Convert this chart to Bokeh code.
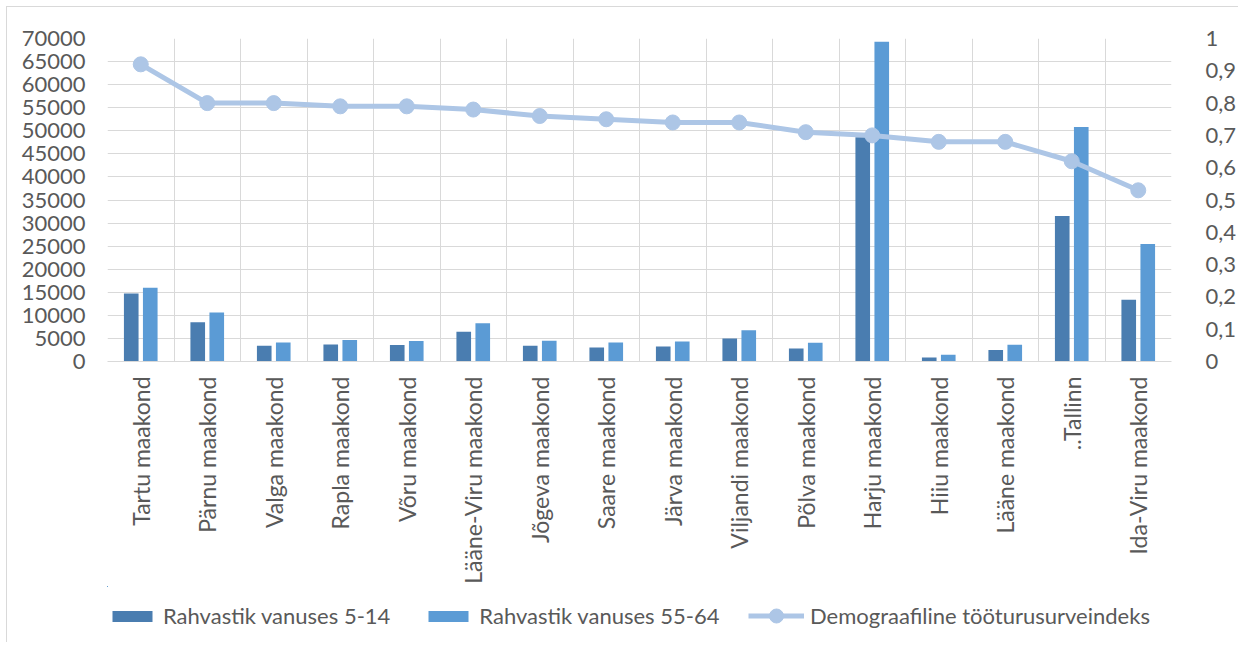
import math
from bokeh.plotting import figure
from bokeh.layouts import column
from bokeh.models import (ColumnDataSource, Range1d, LinearAxis, FixedTicker,
                          CustomJSTickFormatter, Legend, LegendItem)
from bokeh.transform import dodge
from bokeh.embed import file_html
from bokeh.resources import INLINE

# ---- data ----
counties = ["Tartu maakond", "Pärnu maakond", "Valga maakond", "Rapla maakond",
            "Võru maakond", "Lääne-Viru maakond", "Jõgeva maakond", "Saare maakond",
            "Järva maakond", "Viljandi maakond", "Põlva maakond", "Harju maakond",
            "Hiiu maakond", "Lääne maakond", "..Tallinn", "Ida-Viru maakond"]
pop_5_14 = [14760, 8500, 3420, 3700, 3560, 6470, 3420, 3050,
            3270, 5010, 2830, 48600, 870, 2470, 31550, 13370]
pop_55_64 = [15980, 10600, 4140, 4650, 4430, 8290, 4500, 4140,
             4360, 6760, 4070, 69300, 1450, 3630, 50800, 25440]
pressure_index = [0.92, 0.80, 0.80, 0.79, 0.79, 0.78, 0.76, 0.75,
                  0.74, 0.74, 0.71, 0.70, 0.68, 0.68, 0.62, 0.53]
left_ticks = [0, 5000, 10000, 15000, 20000, 25000, 30000, 35000,
              40000, 45000, 50000, 55000, 60000, 65000, 70000]
right_ticks = [0, 0.1, 0.2, 0.3, 0.4, 0.5, 0.6, 0.7, 0.8, 0.9, 1.0]
series_names = ["Rahvastik vanuses 5-14", "Rahvastik vanuses 55-64",
                "Demograafiline tööturusurveindeks"]

# ---- styles ----
FONT = "Lato"
FS = "22px"
TXT = "#595959"
GRID = "#D9D9D9"
C_DARK = "#4A7DB0"
C_LIGHT = "#5B9BD5"
C_LINE = "#ADC6E6"

n = len(counties)
idx = list(range(n))
src = ColumnDataSource(dict(x=idx, a=pop_5_14, b=pop_55_64, d=pressure_index))


def draw_series(fig):
    r1 = fig.vbar(x=dodge("x", -0.143, range=fig.x_range), top="a", width=0.22,
                  source=src, fill_color=C_DARK, line_color=None)
    r2 = fig.vbar(x=dodge("x", 0.143, range=fig.x_range), top="b", width=0.22,
                  source=src, fill_color=C_LIGHT, line_color=None)
    rl = fig.line(x="x", y="d", source=src, y_range_name="idx", line_color=C_LINE,
                  line_width=5)
    rs = fig.scatter(x="x", y="d", source=src, y_range_name="idx", size=15,
                     fill_color=C_LINE, line_color=C_LINE)
    return r1, r2, rl, rs


BORDER = "1px solid #D9D9D9"
p = figure(width=1232, height=580, output_backend="svg", toolbar_location=None,
           x_range=Range1d(-0.5, n - 0.5), y_range=Range1d(left_ticks[0], left_ticks[-1]),
           min_border_left=100, min_border_right=68, min_border_top=31, min_border_bottom=226,
           styles={"margin-left": "6px", "margin-top": "6px",
                   "border-left": BORDER, "border-top": BORDER})
p.outline_line_color = None
p.extra_y_ranges = {"idx": Range1d(right_ticks[0], right_ticks[-1])}
draw_series(p)

# x axis
xa = p.xaxis[0]
xa.ticker = FixedTicker(ticks=idx)
xa.major_label_overrides = {i: c for i, c in zip(idx, counties)}
xa.major_label_orientation = math.pi / 2
xa.major_tick_line_color = None
xa.minor_tick_line_color = None
xa.axis_line_color = GRID
xa.major_label_standoff = 9
xa.major_label_text_font = FONT
xa.major_label_text_font_size = "23px"
xa.major_label_text_color = TXT

# left axis
ya = p.yaxis[0]
ya.ticker = FixedTicker(ticks=left_ticks)
ya.axis_line_color = None
ya.major_tick_line_color = None
ya.minor_tick_line_color = None
ya.major_label_standoff = 16
ya.major_label_text_font = FONT
ya.major_label_text_font_size = FS
ya.major_label_text_color = TXT

# right axis
ya2 = LinearAxis(y_range_name="idx", ticker=FixedTicker(ticks=right_ticks),
                 formatter=CustomJSTickFormatter(
                     code="return (Math.round(tick*10)/10).toString().replace('.', ',');"))
ya2.axis_line_color = None
ya2.major_tick_line_color = None
ya2.minor_tick_line_color = None
ya2.major_label_standoff = 28
ya2.major_label_text_font = FONT
ya2.major_label_text_font_size = FS
ya2.major_label_text_color = TXT
p.add_layout(ya2, "right")

# grids
p.ygrid[0].ticker = FixedTicker(ticks=left_ticks)
p.ygrid[0].grid_line_color = GRID
p.xgrid[0].ticker = FixedTicker(ticks=[i - 0.5 for i in range(n + 1)])
p.xgrid[0].grid_line_color = GRID

# ---- legend strip (same series, drawn outside its visible range) ----
pl = figure(width=1232, height=56, output_backend="svg", toolbar_location=None,
            x_range=Range1d(1000, 1001), y_range=Range1d(-10, -9),
            x_axis_location=None, y_axis_location=None,
            min_border=0, styles={"margin-left": "6px", "border-left": BORDER})
pl.extra_y_ranges = {"idx": Range1d(-10, -9)}
pl.grid.visible = False
pl.outline_line_color = None
q1, q2, ql, qs = draw_series(pl)

common = dict(orientation="horizontal", label_standoff=6, spacing=33, padding=0,
              margin=0, border_line_color=None, background_fill_alpha=0,
              label_text_font=FONT, label_text_font_size=FS, label_text_color=TXT,
              label_height=20)
# the strip's frame is aligned with the main frame (starts at its left edge)
leg_bars = Legend(items=[LegendItem(label=series_names[0], renderers=[q1]),
                         LegendItem(label=series_names[1], renderers=[q2])],
                  location=(0, 13), glyph_width=50, glyph_height=14, **common)
leg_line = Legend(items=[LegendItem(label=series_names[2], renderers=[ql, qs])],
                  location=(641, 9), glyph_width=56, glyph_height=35, **common)
pl.add_layout(leg_bars, "center")
pl.add_layout(leg_line, "center")

open("out.html", "w").write(file_html(column(p, pl, spacing=0), INLINE))
